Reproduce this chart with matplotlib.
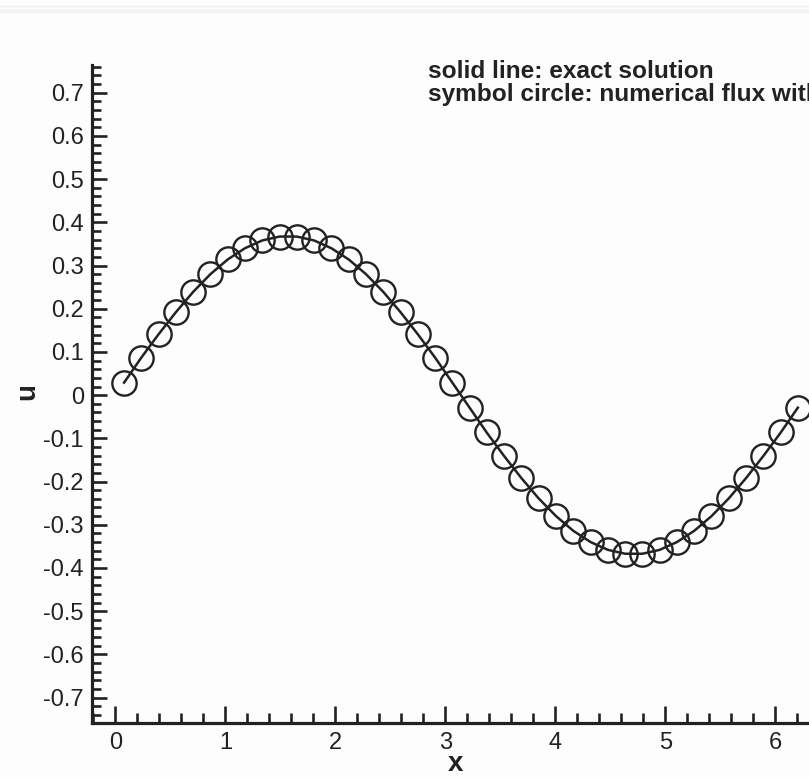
import matplotlib
matplotlib.use('Agg')
import matplotlib.pyplot as plt
from matplotlib.ticker import MultipleLocator, FuncFormatter
from matplotlib.lines import Line2D

plt.rcParams['font.family'] = ['Liberation Sans', 'DejaVu Sans']
plt.rcParams['axes.unicode_minus'] = False

# cell centres (40 cells on [0, 2*pi])
x_cells = [0.079, 0.236, 0.393, 0.550, 0.707, 0.864, 1.021, 1.178, 1.335, 1.492,
           1.649, 1.806, 1.963, 2.121, 2.278, 2.435, 2.592, 2.749, 2.906, 3.063,
           3.220, 3.377, 3.534, 3.691, 3.848, 4.006, 4.163, 4.320, 4.477, 4.634,
           4.791, 4.948, 5.105, 5.262, 5.419, 5.576, 5.733, 5.890, 6.047, 6.204]

# numerical solution (circles)
u_num = [0.029, 0.086, 0.141, 0.192, 0.239, 0.280, 0.314, 0.340, 0.358, 0.367,
         0.367, 0.358, 0.340, 0.314, 0.280, 0.239, 0.192, 0.141, 0.086, 0.029,
         -0.029, -0.086, -0.141, -0.192, -0.239, -0.280, -0.314, -0.340, -0.358, -0.367,
         -0.367, -0.358, -0.340, -0.314, -0.280, -0.239, -0.192, -0.141, -0.086, -0.029]

# exact solution (solid line)
u_exact = [0.029, 0.087, 0.141, 0.192, 0.239, 0.280, 0.314, 0.340, 0.358, 0.367,
           0.367, 0.358, 0.340, 0.314, 0.280, 0.239, 0.192, 0.141, 0.087, 0.029,
           -0.029, -0.087, -0.141, -0.192, -0.239, -0.280, -0.314, -0.340, -0.358, -0.367,
           -0.367, -0.358, -0.340, -0.314, -0.280, -0.239, -0.192, -0.141, -0.087, -0.029]

W, H = 809, 777
ink = '#222222'

fig = plt.figure(figsize=(W / 100, H / 100), dpi=100, facecolor='#fdfdfd')

# faint strip at the very top of the page
fig.add_artist(Line2D([0, 1], [1 - 6 / H, 1 - 6 / H], transform=fig.transFigure, color='#efefef', lw=1))
fig.add_artist(Line2D([0, 1], [1 - 11 / H, 1 - 11 / H], transform=fig.transFigure, color='#f3f3f3', lw=3))

left, bottom, top = 92.3 / W, 1 - 722.7 / H, 1 - 65 / H
x0, x1 = -0.21, 6.5
width = (x1 - x0) * 110 / W
ax = fig.add_axes([left, bottom, width, top - bottom])
ax.set_facecolor('none')

ax.plot(x_cells, u_exact, color=ink, lw=1.8, zorder=2)
ax.plot(x_cells, u_num, linestyle='none', marker='o', ms=17.5, mfc='none',
        mec=ink, mew=1.7, zorder=3)

ax.set_xlim(x0, x1)
ax.set_ylim(-0.758, 0.764)

for s in ['top', 'right']:
    ax.spines[s].set_visible(False)
for s in ['left', 'bottom']:
    ax.spines[s].set_linewidth(2.3)
    ax.spines[s].set_color(ink)

ax.xaxis.set_major_locator(MultipleLocator(1))
ax.xaxis.set_minor_locator(MultipleLocator(0.2))
ax.yaxis.set_major_locator(MultipleLocator(0.1))
ax.yaxis.set_minor_locator(MultipleLocator(0.02))


def fmt(v, pos):
    if abs(v) < 1e-9:
        return '0'
    return f'{v:.1f}'


ax.yaxis.set_major_formatter(FuncFormatter(fmt))

ax.tick_params(axis='y', which='major', direction='in', length=11, width=1.9, color=ink,
               labelsize=17, labelcolor=ink, pad=6)
ax.tick_params(axis='y', which='minor', direction='in', length=6.5, width=1.9, color=ink)
ax.tick_params(axis='x', which='major', direction='in', length=12.5, width=1.9, color=ink,
               labelsize=17, labelcolor=ink, pad=7)
ax.tick_params(axis='x', which='minor', direction='in', length=7.5, width=1.9, color=ink)

fig.text(456 / W, 1 - 764 / H, 'x', fontsize=20, fontweight='bold', color=ink,
         ha='center', va='center')
fig.text(27 / W, 1 - 392 / H, 'u', fontsize=20, fontweight='bold', color=ink,
         ha='center', va='center', rotation=90)

# legend text, cut off by the right edge as in the source figure
fig.text(428 / W, 1 - 72 / H, 'solid line: exact solution', fontsize=17.6,
         fontweight='bold', color=ink, ha='left', va='center')
fig.text(428 / W, 1 - 94 / H, 'symbol circle: numerical flux with', fontsize=17.6,
         fontweight='bold', color=ink, ha='left', va='center')

fig.savefig('out.png', dpi=100, facecolor=fig.get_facecolor())
